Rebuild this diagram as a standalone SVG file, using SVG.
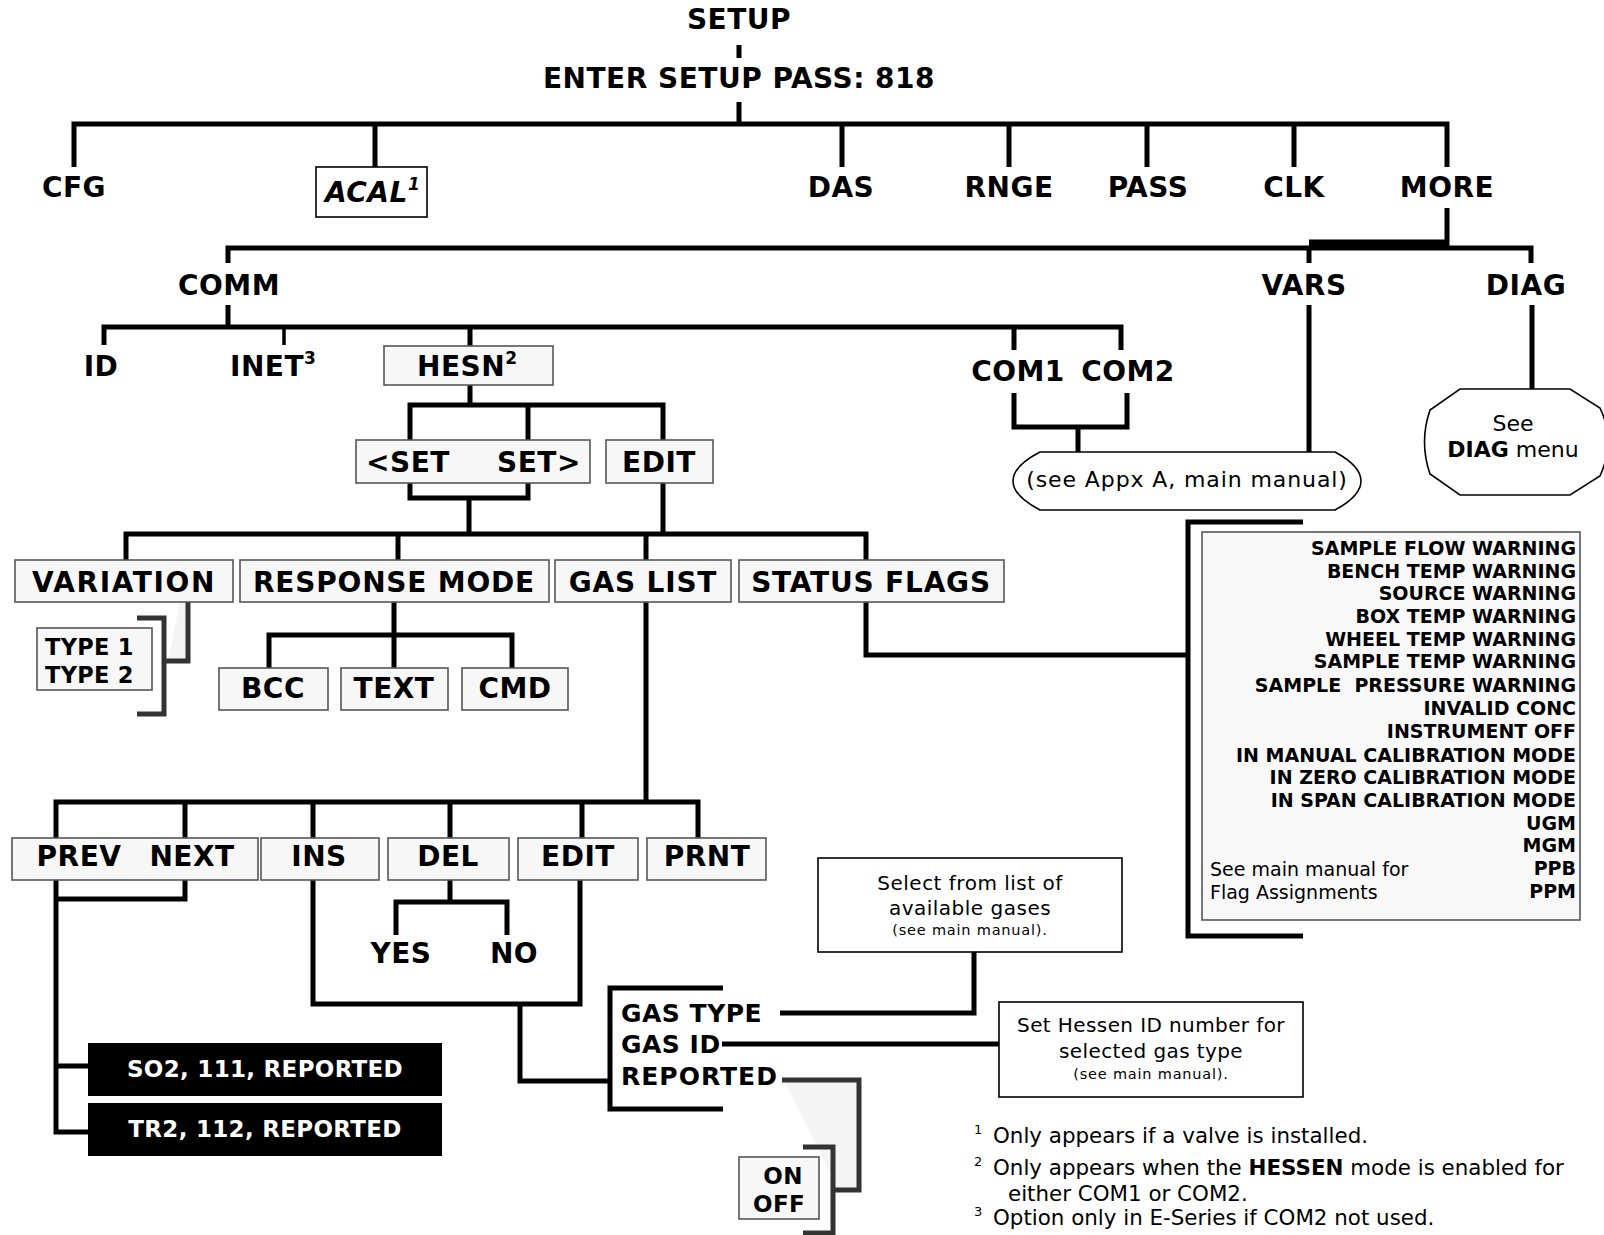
<svg xmlns="http://www.w3.org/2000/svg" width="1604" height="1235" viewBox="0 0 1604 1235">
<style>
text{font-family:"DejaVu Sans","Liberation Sans",sans-serif;fill:#000}
.b{font-weight:bold;font-size:28px;letter-spacing:0.5px}
.bx{letter-spacing:0.8px}
.m{text-anchor:middle}
.box{fill:#f7f7f7;stroke:#555;stroke-width:1.6}
.wbox{fill:#fff;stroke:#000;stroke-width:1.6}
.c{fill:none;stroke:#000;stroke-width:5;stroke-linejoin:miter;stroke-linecap:butt}
.g{fill:none;stroke:#333;stroke-width:5}
.fl{font-weight:bold;font-size:19px;text-anchor:end}
.r{font-size:20px}
.fn{font-size:21.4px}
.sm{font-size:14.5px;letter-spacing:0.8px}
.s23{font-size:23px;letter-spacing:0.3px}
.s25{font-size:25px}
</style>
<g id="connectors">
<path class="c" d="M739,45V58M739,102V124M74,167V124H1447V167M375,124V167M842,124V167M1009,124V167M1147,124V167M1294,124V167"/>
<path class="c" d="M1447,208V248M228,263V248H1531V263M1309,248V263"/>
<path class="c" d="M1309,244H1447" style="stroke-width:9"/>
<path class="c" d="M228,305V327M104,345V327H1121V350M470,327V346M1014,327V350"/>
<path class="c" d="M284,327V345" style="stroke-width:3.5"/>
<path class="c" d="M1014,393V427H1127V393M1078,427V452"/>
<path class="c" d="M1309,305V452M1532,305V389"/>
<path class="c" d="M470,385V405M410,440V405H663V440M528,405V440"/>
<path class="c" d="M410,483V498H528V483M469,498V534M663,483V534"/>
<path class="c" d="M126,560V534H866V560M398,534V560M646,534V560"/>
<path class="c" d="M866,602V655H1188"/>
<path class="c" d="M1303,522H1188V936H1303"/>
<path d="M180,602H188V661H168Z" fill="#f4f4f4"/>
<path class="g" d="M188,602V661H162M137,618H164V714H137"/>
<path class="c" d="M394,602V668M269,668V635H512V668"/>
<path class="c" d="M646,602V802M56,838V802H698V838M185,802V838M313,802V838M450,802V838M582,802V838"/>
<path class="c" d="M56,880V1132H88M56,1066H88M185,880V899H56"/>
<path class="c" d="M313,880V1004H580V880M450,880V902M396,935V902H507V935"/>
<path class="c" d="M520,1004V1081H610M723,988H610V1109H723"/>
<path class="c" d="M780,1013H974V952M722,1044H999"/>
<path d="M784,1080L859,1080V1190H833V1178Z" fill="#f4f4f4"/>
<path class="g" d="M782,1080H859V1190H835M803,1147H833V1233H803"/>
</g>
<g id="setup"><text class="b m" x="739" y="29">SETUP</text></g>
<g id="pass"><text class="b m" x="739" y="88">ENTER SETUP PASS: 818</text></g>
<g id="cfg"><text class="b m" x="74" y="197">CFG</text></g>
<g id="acal"><rect class="wbox" x="316" y="167" width="111" height="50"/><text class="b" x="325" y="202" font-style="italic">ACAL<tspan font-size="17" dy="-12">1</tspan></text></g>
<g id="das"><text class="b m" x="841" y="197">DAS</text></g>
<g id="rnge"><text class="b m" x="1009" y="197">RNGE</text></g>
<g id="passn"><text class="b m" x="1148" y="197">PASS</text></g>
<g id="clk"><text class="b m" x="1294" y="197">CLK</text></g>
<g id="more"><text class="b m" x="1447" y="197">MORE</text></g>
<g id="comm"><text class="b m" x="229" y="295">COMM</text></g>
<g id="vars"><text class="b m" x="1304" y="295">VARS</text></g>
<g id="diag"><text class="b m" x="1526" y="295">DIAG</text></g>
<g id="id"><text class="b m" x="101" y="376">ID</text></g>
<g id="inet"><text class="b" x="230" y="376">INET<tspan font-size="17" dy="-12">3</tspan></text></g>
<g id="hesn"><rect class="box" x="384" y="346" width="169" height="39"/><text class="b" x="417" y="376">HESN<tspan font-size="17" dy="-12">2</tspan></text></g>
<g id="com"><text class="b m" x="1018" y="381">COM1</text><text class="b m" x="1128" y="381">COM2</text></g>
<g id="appx"><path d="M1040,452H1335Q1361,466 1361,481Q1361,496 1335,510H1040Q1013,496 1013,481Q1013,466 1040,452Z" fill="#fff" stroke="#000" stroke-width="1.6"/><text class="m" x="1187" y="487" font-size="22" letter-spacing="0.9">(see Appx A, main manual)</text></g>
<g id="seediag"><path d="M1460,389H1570L1600,408Q1616,441 1600,476L1570,495H1460L1430,474Q1419,442 1430,410Z" fill="#fff" stroke="#000" stroke-width="1.6"/><text class="m" x="1513" y="431" font-size="22">See</text><text class="m" x="1513" y="457" font-size="22"><tspan font-weight="bold">DIAG</tspan> menu</text></g>
<g id="set"><rect class="box" x="356" y="440" width="234" height="43"/><text class="b" x="366" y="472">&lt;SET</text><text class="b" x="497" y="472">SET&gt;</text></g>
<g id="edit1"><rect class="box" x="606" y="440" width="107" height="43"/><text class="b m" x="659" y="472">EDIT</text></g>
<g id="variation"><rect class="box" x="15" y="560" width="218" height="42"/><text class="b m" x="124" y="592" style="letter-spacing:1.6px">VARIATION</text></g>
<g id="response"><rect class="box" x="240" y="560" width="309" height="42"/><text class="b m bx" x="394" y="592">RESPONSE MODE</text></g>
<g id="gaslist"><rect class="box" x="555" y="560" width="176" height="42"/><text class="b m bx" x="643" y="592">GAS LIST</text></g>
<g id="status"><rect class="box" x="739" y="560" width="265" height="42"/><text class="b m bx" x="871" y="592">STATUS FLAGS</text></g>
<g id="type"><rect class="box" x="37" y="628" width="115" height="62"/><text class="b s23" x="45" y="655" style="font-size:22.5px">TYPE 1</text><text class="b s23" x="45" y="683" style="font-size:22.5px">TYPE 2</text></g>
<g id="bcc"><rect class="box" x="219" y="668" width="109" height="42"/><text class="b m" x="273" y="698">BCC</text></g>
<g id="text"><rect class="box" x="341" y="668" width="107" height="42"/><text class="b m" x="394" y="698">TEXT</text></g>
<g id="cmd"><rect class="box" x="462" y="668" width="106" height="42"/><text class="b m" x="515" y="698">CMD</text></g>
<g id="flags"><rect x="1202" y="532" width="378" height="388" fill="#f8f8f8" stroke="#555" stroke-width="1.6"/>
<text class="fl" x="1576" y="555">SAMPLE FLOW WARNING</text>
<text class="fl" x="1576" y="578">BENCH TEMP WARNING</text>
<text class="fl" x="1576" y="600">SOURCE WARNING</text>
<text class="fl" x="1576" y="623">BOX TEMP WARNING</text>
<text class="fl" x="1576" y="646">WHEEL TEMP WARNING</text>
<text class="fl" x="1576" y="668">SAMPLE TEMP WARNING</text>
<text class="fl" x="1576" y="692" style="white-space:pre">SAMPLE  PRESSURE WARNING</text>
<text class="fl" x="1576" y="715">INVALID CONC</text>
<text class="fl" x="1576" y="738">INSTRUMENT OFF</text>
<text class="fl" x="1576" y="762">IN MANUAL CALIBRATION MODE</text>
<text class="fl" x="1576" y="784">IN ZERO CALIBRATION MODE</text>
<text class="fl" x="1576" y="807">IN SPAN CALIBRATION MODE</text>
<text class="fl" x="1576" y="830">UGM</text>
<text class="fl" x="1576" y="852">MGM</text>
<text class="fl" x="1576" y="875">PPB</text>
<text class="fl" x="1576" y="898">PPM</text>
<text x="1210" y="876" font-size="19">See main manual for</text>
<text x="1210" y="899" font-size="19">Flag Assignments</text></g>
<g id="prevnext"><rect class="box" x="12" y="838" width="246" height="42"/><text class="b m" x="79" y="866">PREV</text><text class="b m" x="192" y="866">NEXT</text></g>
<g id="ins"><rect class="box" x="261" y="838" width="118" height="42"/><text class="b m" x="319" y="866">INS</text></g>
<g id="del"><rect class="box" x="388" y="838" width="121" height="42"/><text class="b m" x="448" y="866">DEL</text></g>
<g id="edit2"><rect class="box" x="518" y="838" width="120" height="42"/><text class="b m" x="578" y="866">EDIT</text></g>
<g id="prnt"><rect class="box" x="647" y="838" width="119" height="42"/><text class="b m" x="707" y="866">PRNT</text></g>
<g id="yes"><text class="b m" x="401" y="963">YES</text></g>
<g id="no"><text class="b m" x="514" y="963">NO</text></g>
<g id="so2"><rect x="88" y="1043" width="354" height="53" fill="#000"/><text class="b m s23" x="265" y="1077" style="fill:#fff">SO2, 111, REPORTED</text></g>
<g id="tr2"><rect x="88" y="1103" width="354" height="53" fill="#000"/><text class="b m s23" x="265" y="1137" style="fill:#fff">TR2, 112, REPORTED</text></g>
<g id="gasedit"><text class="b s25" x="621" y="1022">GAS TYPE</text><text class="b s25" x="621" y="1053">GAS ID</text><text class="b s25" x="621" y="1085" style="letter-spacing:1px">REPORTED</text></g>
<g id="select"><rect class="wbox" x="818" y="858" width="304" height="94"/><text class="m r" x="970" y="890" letter-spacing="0.5">Select from list of</text><text class="m r" x="970" y="915" letter-spacing="0.5">available gases</text><text class="m sm" x="970" y="935">(see main manual).</text></g>
<g id="hessen"><rect class="wbox" x="999" y="1002" width="304" height="95"/><text class="m r" x="1151" y="1032" letter-spacing="0.4">Set Hessen ID number for</text><text class="m r" x="1151" y="1058" letter-spacing="0.4">selected gas type</text><text class="m sm" x="1151" y="1079">(see main manual).</text></g>
<g id="onoff"><rect class="box" x="739" y="1157" width="80" height="62"/><text class="b m s23" x="783" y="1184">ON</text><text class="b m s23" x="779" y="1212">OFF</text></g>
<g id="notes">
<text x="974" y="1134" font-size="13">1</text><text class="fn" x="993" y="1143">Only appears if a valve is installed.</text>
<text x="974" y="1166" font-size="13">2</text><text class="fn" x="993" y="1175">Only appears when the <tspan font-weight="bold">HESSEN</tspan> mode is enabled for</text>
<text class="fn" x="1008" y="1201">either COM1 or COM2.</text>
<text x="974" y="1216" font-size="13">3</text><text class="fn" x="993" y="1225">Option only in E-Series if COM2 not used.</text>
</g>
</svg>
